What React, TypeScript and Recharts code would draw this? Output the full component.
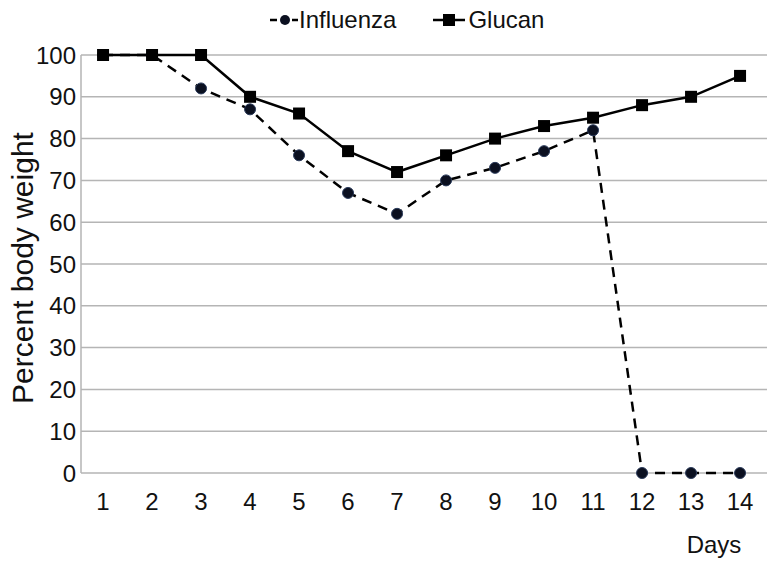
import React from "react"
import { LineChart, Line, XAxis, YAxis, CartesianGrid, Label } from "recharts"

const days = [1, 2, 3, 4, 5, 6, 7, 8, 9, 10, 11, 12, 13, 14]
const influenza = [100, 100, 92, 87, 76, 67, 62, 70, 73, 77, 82, 0, 0, 0]
const glucan = [100, 100, 100, 90, 86, 77, 72, 76, 80, 83, 85, 88, 90, 95]
const yTicks = [0, 10, 20, 30, 40, 50, 60, 70, 80, 90, 100]

const data = days.map((d, i) => ({ day: d, influenza: influenza[i], glucan: glucan[i] }))

const FONT = '"Liberation Sans", Arial, Helvetica, sans-serif'
const GRID = "#b5b5b5"

const SquareDot = (props: any) => {
  const { cx, cy } = props
  if (cx == null || cy == null) return null
  return <rect x={cx - 6} y={cy - 6} width={12} height={12} fill="#000" />
}

const CircleDot = (props: any) => {
  const { cx, cy } = props
  if (cx == null || cy == null) return null
  return <circle cx={cx} cy={cy} r={5.5} fill="#0b1020" stroke="#2a3a5a" strokeWidth={1} />
}

const YLabel = ({ viewBox }: any) => {
  const cy = viewBox.y + viewBox.height / 2 + 4
  return (
    <text
      x={33}
      y={cy}
      transform={`rotate(-90, 33, ${cy})`}
      textAnchor="middle"
      fontSize={30}
      fontFamily={FONT}
      fill="#111"
    >
      Percent body weight
    </text>
  )
}

const XLabel = ({ viewBox }: any) => (
  <text
    x={viewBox.x + viewBox.width - 53}
    y={viewBox.y + 80}
    textAnchor="middle"
    fontSize={24}
    fontFamily={FONT}
    fill="#111"
  >
    Days
  </text>
)

function LegendBar() {
  return (
    <div
      style={{
        position: "absolute",
        top: 6,
        left: 270,
        display: "flex",
        alignItems: "center",
        fontFamily: FONT,
        fontSize: 24,
        color: "#111",
        lineHeight: "28px",
      }}
    >
      <svg width={28} height={14} style={{ marginRight: 1 }}>
        <line x1={0} y1={7} x2={28} y2={7} stroke="#000" strokeWidth={2.5} strokeDasharray="7 4" />
        <circle cx={15} cy={7} r={5} fill="#0b1020" />
      </svg>
      <span>Influenza</span>
      <svg width={32} height={14} style={{ marginLeft: 37, marginRight: 3 }}>
        <line x1={0} y1={7} x2={32} y2={7} stroke="#000" strokeWidth={2.5} />
        <rect x={10} y={1} width={12} height={12} fill="#000" />
      </svg>
      <span>Glucan</span>
    </div>
  )
}

export default function App() {
  return (
    <div style={{ position: "absolute", left: 0, top: 0, width: 772, height: 563, background: "#fff" }}>
      <LegendBar />
      <LineChart width={772} height={563} data={data} margin={{ top: 55, right: 5, bottom: 0, left: 0 }}>
        <CartesianGrid vertical={false} stroke={GRID} strokeWidth={1.5} />
        <XAxis
          dataKey="day"
          type="number"
          domain={[0.55, 14.55]}
          ticks={days}
          axisLine={false}
          tickLine={false}
          tickSize={0}
          tickMargin={20}
          height={90}
          tick={{ fontSize: 24, fontFamily: FONT, fill: "#111" }}
        >
          <Label content={XLabel} />
        </XAxis>
        <YAxis
          domain={[0, 100]}
          ticks={yTicks}
          width={81}
          axisLine={{ stroke: GRID, strokeWidth: 1.5 }}
          tickLine={false}
          tickSize={0}
          tickMargin={5}
          tick={{ fontSize: 24, fontFamily: FONT, fill: "#111" }}
        >
          <Label content={YLabel} />
        </YAxis>
        <Line
          dataKey="influenza"
          stroke="#000"
          strokeWidth={2.5}
          strokeDasharray="10 7"
          dot={<CircleDot />}
          activeDot={false}
          isAnimationActive={false}
        />
        <Line
          dataKey="glucan"
          stroke="#000"
          strokeWidth={2.5}
          dot={<SquareDot />}
          activeDot={false}
          isAnimationActive={false}
        />
      </LineChart>
    </div>
  )
}
